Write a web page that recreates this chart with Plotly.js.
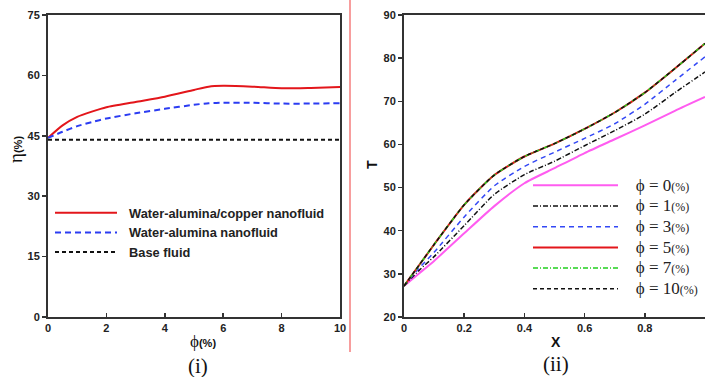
<!DOCTYPE html>
<html><head><meta charset="utf-8">
<script src="https://cdn.plot.ly/plotly-3.0.1.min.js"></script>
<style>html,body{margin:0;padding:0;background:#fff;}#chart{width:705px;height:377px;}</style>
</head><body><div id="chart"></div>
<script>
// Panel (i): efficiency vs volume fraction
const phiPct = [0, 0.5, 1, 1.5, 2, 3, 4, 5, 5.5, 6, 7, 8, 9, 10];
const etaHybrid = [44.5, 47.6, 49.7, 51.0, 52.1, 53.4, 54.7, 56.4, 57.2, 57.4, 57.2, 56.8, 56.9, 57.1];
const etaAlumina = [44.5, 46.0, 47.4, 48.4, 49.3, 50.6, 51.7, 52.7, 53.1, 53.2, 53.2, 53.0, 53.0, 53.1];
const baseX = [0, 10];
const etaBase = [44, 44];
const leftNames = ["Water-alumina/copper nanofluid", "Water-alumina nanofluid", "Base fluid"];
const leftXTicks = [0, 2, 4, 6, 8, 10];
const leftYTicks = [0, 15, 30, 45, 60, 75];

// Panel (ii): temperature along X
const X = [0, 0.05, 0.1, 0.2, 0.3, 0.4, 0.5, 0.6, 0.7, 0.8, 0.9, 1.0];
const T_phi0 = [27.2, 30.1, 33.0, 39.4, 45.7, 51.0, 54.5, 58.0, 61.2, 64.4, 67.8, 71.0];
const T_phi1 = [27.2, 30.8, 34.0, 41.2, 48.4, 53.0, 56.1, 59.7, 63.2, 67.0, 72.0, 76.8];
const T_phi3 = [27.2, 31.3, 35.0, 43.2, 50.4, 54.9, 58.2, 61.4, 64.8, 69.3, 74.8, 80.3];
const T_phi5 = [27.2, 32.0, 36.8, 46.0, 52.9, 57.2, 60.2, 63.6, 67.4, 72.0, 77.6, 83.4];
const T_phi7 = [27.2, 32.0, 36.8, 46.0, 52.9, 57.2, 60.2, 63.6, 67.4, 72.0, 77.6, 83.4];
const T_phi10 = [27.2, 32.0, 36.8, 46.0, 52.9, 57.2, 60.2, 63.6, 67.4, 72.0, 77.6, 83.4];
const phiLabels = ["0", "1", "3", "5", "7", "10"];
const rightXTicks = [0, 0.2, 0.4, 0.6, 0.8, 1];
const rightXTickText = ["0", "0.2", "0.4", "0.6", "0.8", "1"];
const rightYTicks = [20, 30, 40, 50, 60, 70, 80, 90];

const W = 705, H = 377;
const px = v => v / W, py = v => 1 - v / H;
const tickFont = {family: "Liberation Sans, Arial, sans-serif", size: 11, color: "#222", weight: "bold"};
const NB = "\u00a0";
const phiName = p => "<span style='font-size:17px'>" + NB + NB + NB + "ϕ = " + p + "</span><span style='font-size:12px'>(%)</span>";
const leftName = n => NB + NB + n;

const traces = [
  {x: phiPct, y: etaHybrid, name: leftName(leftNames[0]), xaxis: "x", yaxis: "y", legend: "legend",
   mode: "lines", line: {color: "#e3161b", width: 2, shape: "spline", smoothing: 0.6}},
  {x: phiPct, y: etaAlumina, name: leftName(leftNames[1]), xaxis: "x", yaxis: "y", legend: "legend",
   mode: "lines", line: {color: "#2b3cf2", width: 2, dash: "6px,4px", shape: "spline", smoothing: 0.6}},
  {x: baseX, y: etaBase, name: leftName(leftNames[2]), xaxis: "x", yaxis: "y", legend: "legend",
   mode: "lines", line: {color: "#111", width: 2, dash: "4px,3px"}},

  {x: X, y: T_phi0, name: phiName(phiLabels[0]), xaxis: "x2", yaxis: "y2", legend: "legend2",
   mode: "lines", line: {color: "#ff5cf0", width: 2, shape: "spline", smoothing: 0.6}},
  {x: X, y: T_phi1, name: phiName(phiLabels[1]), xaxis: "x2", yaxis: "y2", legend: "legend2",
   mode: "lines", line: {color: "#111", width: 1.5, dash: "5px,2px,1px,2px", shape: "spline", smoothing: 0.6}},
  {x: X, y: T_phi3, name: phiName(phiLabels[2]), xaxis: "x2", yaxis: "y2", legend: "legend2",
   mode: "lines", line: {color: "#3348f5", width: 1.5, dash: "5px,4px", shape: "spline", smoothing: 0.6}},
  {x: X, y: T_phi5, name: phiName(phiLabels[3]), xaxis: "x2", yaxis: "y2", legend: "legend2",
   mode: "lines", line: {color: "#e3161b", width: 2, shape: "spline", smoothing: 0.6}},
  {x: X, y: T_phi7, name: phiName(phiLabels[4]), xaxis: "x2", yaxis: "y2", legend: "legend2",
   mode: "lines", line: {color: "#22d01e", width: 1.5, dash: "5px,2px,1px,2px", shape: "spline", smoothing: 0.6}},
  {x: X, y: T_phi10, name: phiName(phiLabels[5]), xaxis: "x2", yaxis: "y2", legend: "legend2",
   mode: "lines", line: {color: "#111", width: 1.5, dash: "4px,3px", shape: "spline", smoothing: 0.6}}
];

const axisCommon = {showgrid: false, zeroline: false, showline: true, mirror: true,
  linecolor: "#333", linewidth: 2, ticklen: 4, tickwidth: 1.5, tickcolor: "#333",
  tickfont: tickFont, fixedrange: true};

const serif = "Liberation Serif, Times New Roman, serif";
const sans = "Liberation Sans, Arial, sans-serif";

const layout = {
  width: W, height: H,
  margin: {l: 0, r: 0, t: 0, b: 0},
  paper_bgcolor: "#fff", plot_bgcolor: "#fff",
  xaxis: Object.assign({}, axisCommon, {domain: [px(48), px(340)], range: [0, 10],
    tickvals: leftXTicks, ticks: "inside", anchor: "y"}),
  yaxis: Object.assign({}, axisCommon, {domain: [py(317), py(15)], range: [0, 75],
    tickvals: leftYTicks, ticks: "outside", anchor: "x"}),
  xaxis2: Object.assign({}, axisCommon, {domain: [px(404), 1], range: [0, 1],
    tickvals: rightXTicks, ticktext: rightXTickText, ticks: "inside", anchor: "y2"}),
  yaxis2: Object.assign({}, axisCommon, {domain: [py(317), py(15)], range: [20, 90],
    tickvals: rightYTicks, ticks: "outside", anchor: "x2"}),
  legend: {x: px(50), y: py(198), xanchor: "left", yanchor: "top", bgcolor: "rgba(0,0,0,0)",
    itemwidth: 62, tracegroupgap: 0,
    font: {family: sans, size: 12.8, color: "#222", weight: "bold"}},
  legend2: {x: px(528), y: py(170), xanchor: "left", yanchor: "top", bgcolor: "rgba(0,0,0,0)",
    itemwidth: 85, tracegroupgap: 0,
    font: {family: serif, size: 13.6, color: "#222"}},
  showlegend: true,
  shapes: [{type: "line", xref: "paper", yref: "paper", x0: px(350), x1: px(350), y0: py(0), y1: py(352),
    line: {color: "#f47c7c", width: 1.5}}],
  annotations: [
    {text: "ϕ<span style='font-size:11px;font-family:Liberation Sans;font-weight:bold'>(%)</span>",
     xref: "paper", yref: "paper", x: px(203), y: py(341), xanchor: "center", yanchor: "middle", showarrow: false,
     font: {family: serif, size: 17, color: "#111"}},
    {text: "η<span style='font-size:11px;font-family:Liberation Sans;font-weight:bold'>(%)</span>",
     xref: "paper", yref: "paper", x: px(15), y: py(150), xanchor: "center", yanchor: "middle", textangle: -90, showarrow: false,
     font: {family: serif, size: 19, color: "#111"}},
    {text: "X", xref: "paper", yref: "paper", x: px(556), y: py(342), xanchor: "center", yanchor: "middle", showarrow: false,
     font: {family: sans, size: 14, color: "#111", weight: "bold"}},
    {text: "T", xref: "paper", yref: "paper", x: px(372), y: py(165), xanchor: "center", yanchor: "middle", textangle: -90, showarrow: false,
     font: {family: sans, size: 14, color: "#111", weight: "bold"}},
    {text: "(i)", xref: "paper", yref: "paper", x: px(198), y: py(366), xanchor: "center", yanchor: "middle", showarrow: false,
     font: {family: serif, size: 21, color: "#111"}},
    {text: "(ii)", xref: "paper", yref: "paper", x: px(556), y: py(364), xanchor: "center", yanchor: "middle", showarrow: false,
     font: {family: serif, size: 21, color: "#111"}}
  ]
};

Plotly.newPlot("chart", traces, layout, {displayModeBar: false, staticPlot: true});
</script></body></html>
